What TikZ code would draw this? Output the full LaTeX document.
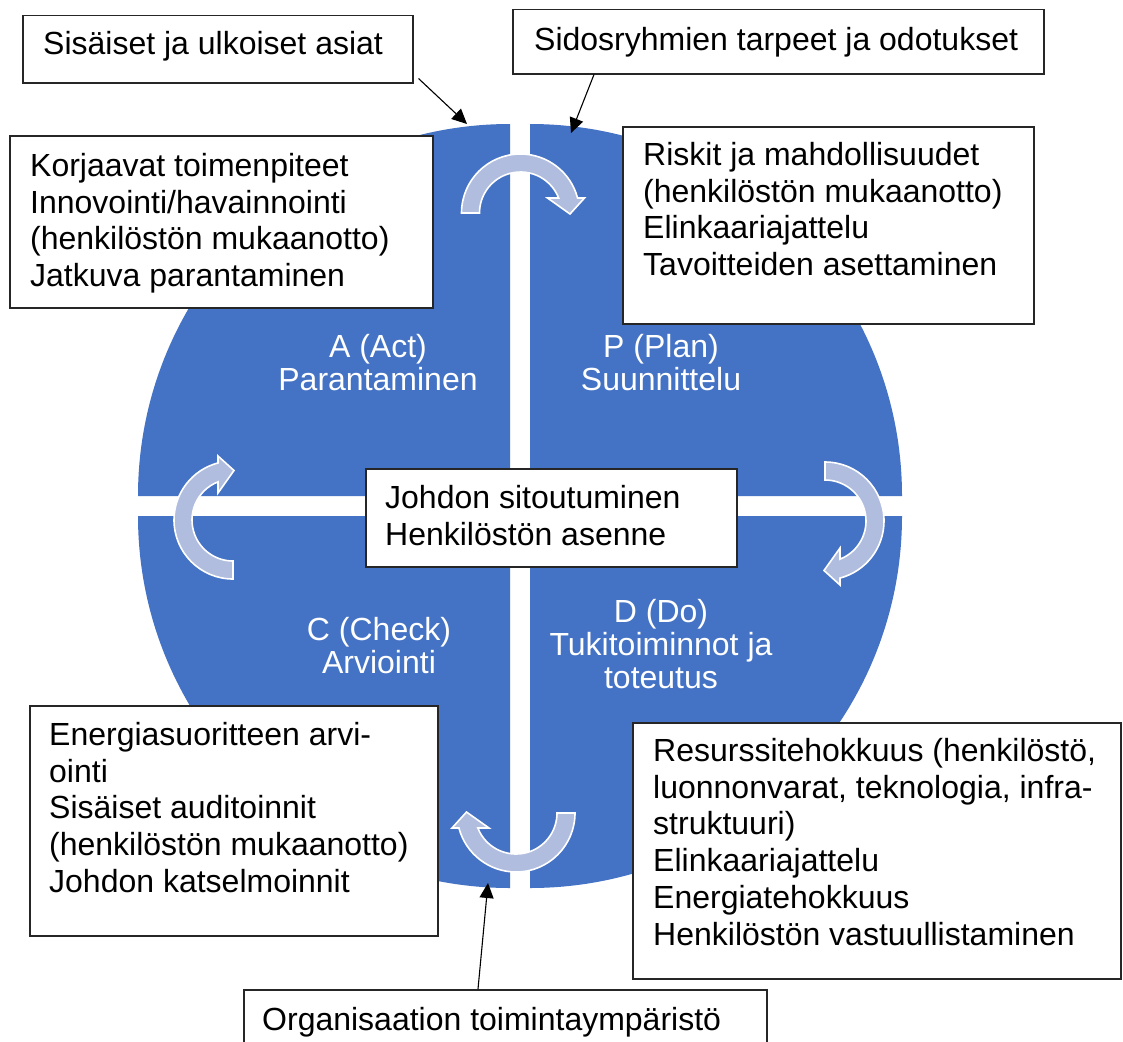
\documentclass[tikz,border=0pt]{standalone}
\usepackage{fontspec}
\setmainfont{Liberation Sans}
\usetikzlibrary{arrows.meta}
\definecolor{cblue}{HTML}{4472C4}
\definecolor{afill}{HTML}{B0BDDF}
\definecolor{bline}{HTML}{262626}
\newcommand\firststrut{\rule{0pt}{26pt}}
\newcommand\cyclearrow[3]{%
  \begin{scope}[shift={(#1,#2)},rotate=#3]
    \filldraw[arrowshape] (180:59) arc[start angle=180,end angle=345.27,radius=59]
      -- (64,-15) -- (49.5,1) -- (27,-15) -- (338.54:41)
      arc[start angle=338.54,end angle=180,radius=41] -- cycle;
  \end{scope}}
\begin{document}
\begin{tikzpicture}[x=1pt,y=-1pt,
  box/.style={draw=bline,line width=1.5pt,fill=white,rectangle,inner sep=0pt,anchor=north west},
  txt/.style={anchor=north west,inner sep=0pt,align=left,font=\fontsize{32}{36.8}\selectfont},
  qlab/.style={anchor=north,inner sep=0pt,align=center,text=white,font=\fontsize{32}{33}\selectfont},
  quad/.style={fill=cblue},
  arrowshape/.style={fill=afill,draw=white,line width=1.6pt,line join=miter},
  conn/.style={line width=1.1pt,-{Triangle[length=15pt,width=14pt]}}]
\useasboundingbox (0,0) rectangle (1123,1041);
\clip (0,0) rectangle (1123,1041);
\fill[white] (0,0) rectangle (1123,1041);
% four quarter disks
\fill[quad] (510,496) -- (138,496) arc[start angle=180,end angle=270,radius=372] -- cycle;
\fill[quad] (530,496) -- (530,124) arc[start angle=270,end angle=360,radius=372] -- cycle;
\fill[quad] (530,516) -- (902,516) arc[start angle=0,end angle=90,radius=372] -- cycle;
\fill[quad] (510,516) -- (510,888) arc[start angle=90,end angle=180,radius=372] -- cycle;
% circular arrows
\cyclearrow{520.5}{213}{0}
\cyclearrow{825}{521}{-90}
\cyclearrow{516}{813}{180}
\cyclearrow{233}{520}{90}
% quadrant labels
\node[qlab] (qA) at (378,331) {\firststrut A (Act)\\Parantaminen};
\node[qlab] (qP) at (661,331) {\firststrut P (Plan)\\Suunnittelu};
\node[qlab] (qC) at (379,614) {\firststrut C (Check)\\Arviointi};
\node[qlab] (qD) at (661,596) {\firststrut D (Do)\\Tukitoiminnot ja\\toteutus};
% boxes
\node[box,minimum width=390pt,minimum height=67pt] (sis) at (22,15) {};
\node[box,minimum width=531pt,minimum height=64pt] (sid) at (512,9) {};
\node[box,minimum width=423pt,minimum height=172pt] (kor) at (9,135) {};
\node[box,minimum width=411pt,minimum height=197pt] (ris) at (622,126) {};
\node[box,minimum width=371pt,minimum height=98pt] (joh) at (365,468) {};
\node[box,minimum width=408pt,minimum height=230pt] (ene) at (29,705) {};
\node[box,minimum width=488pt,minimum height=256pt] (res) at (632,722) {};
\node[box,minimum width=523pt,minimum height=80pt] (org) at (243,989) {};
% texts
\node[txt] (sisT) at (43,28) {\firststrut Sisäiset ja ulkoiset asiat};
\node[txt] (sidT) at (534,24) {\firststrut Sidosryhmien tarpeet ja odotukset};
\node[txt] (korT) at (30,150) {\firststrut Korjaavat toimenpiteet\\Innovointi/havainnointi\\(henkilöstön mukaanotto)\\Jatkuva parantaminen};
\node[txt] (risT) at (643,139) {\firststrut Riskit ja mahdollisuudet\\(henkilöstön mukaanotto)\\Elinkaariajattelu\\Tavoitteiden asettaminen};
\node[txt] (johT) at (385,482) {\firststrut Johdon sitoutuminen\\Henkilöstön asenne};
\node[txt] (eneT) at (49,719) {\firststrut Energiasuoritteen arvi-\\ointi\\Sisäiset auditoinnit\\(henkilöstön mukaanotto)\\Johdon katselmoinnit};
\node[txt] (resT) at (653,735) {\firststrut Resurssitehokkuus (henkilöstö,\\luonnonvarat, teknologia, infra-\\struktuuri)\\Elinkaariajattelu\\Energiatehokkuus\\Henkilöstön vastuullistaminen};
\node[txt] (orgT) at (262,1004) {\firststrut Organisaation toimintaympäristö};
% connectors
\coordinate (tipA) at (467,124);
\coordinate (tipB) at (571,133);
\coordinate (tipC) at (488,883);
\draw[conn] ([shift={(5,-5)}]sis.south east) -- (tipA);
\draw[conn] ([shift={(82,0)}]sid.south west) -- (tipB);
\draw[conn] ([shift={(235,0)}]org.north west) -- (tipC);
\end{tikzpicture}
\end{document}
